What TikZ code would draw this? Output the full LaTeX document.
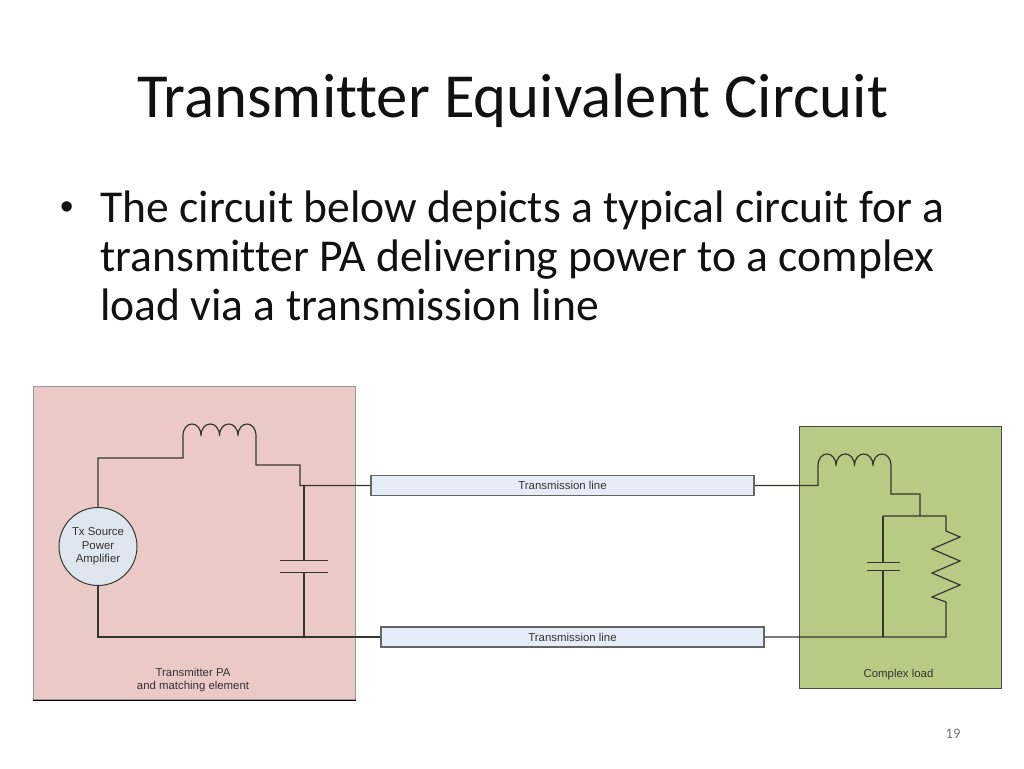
\documentclass[tikz,border=0pt]{standalone}
\usepackage{fontspec}
\setmainfont[Ligatures=NoCommon]{Carlito}
\newfontfamily\arialf{Liberation Sans}
\definecolor{pinkfill}{HTML}{EBC9C7}
\definecolor{greenfill}{HTML}{B6CC85}
\definecolor{linefill}{HTML}{E6ECF7}
\definecolor{srcfill}{HTML}{DDE6EE}
\definecolor{wirec}{HTML}{33382F}
\definecolor{txtc}{HTML}{111111}
\tikzset{
  wire/.style={draw=wirec,line width=1.2pt,line join=miter},
  panel/.style={draw=#1,line width=1pt,inner sep=0pt,anchor=north west},
  tline/.style={draw=black!60,fill=linefill,line width=1.3pt,minimum width=383pt,minimum height=20pt,inner sep=0pt,font=\arialf\fontsize{11.4}{12}\selectfont,text=black!80},
  small/.style={font=\arialf\fontsize{11.4}{13.5}\selectfont,text=black!80,align=center,inner sep=0pt},
}
\begin{document}
\begin{tikzpicture}[x=1pt,y=-1pt]
\useasboundingbox[fill=white] (0,0) rectangle (1024,768);
\node[anchor=base west,inner sep=0pt,font=\fontsize{62.7}{66}\selectfont,text=txtc] (title) at (137,117) {Transmitter Equivalent Circuit};
\node[anchor=base west,inner sep=0pt,font=\arialf\fontsize{38}{48}\selectfont,text=txtc] (bullet) at (60,219) {•};
\node[anchor=base west,inner sep=0pt,font=\fontsize{45.6}{48}\selectfont,text=txtc] (b1) at (100,222) {The circuit below depicts a typical circuit for a};
\node[anchor=base west,inner sep=0pt,font=\fontsize{45.6}{48}\selectfont,text=txtc] (b2) at (100,271) {transmitter PA delivering power to a complex};
\node[anchor=base west,inner sep=0pt,font=\fontsize{45.6}{48}\selectfont,text=txtc] (b3) at (100,320) {load via a transmission line};

\node[panel=black!40,fill=pinkfill,minimum width=322pt,minimum height=313.5pt] (pa) at (32.5,385.5) {};
\draw[black,line width=1pt] (pa.south west) -- (pa.south east);
\node[panel=black!70,fill=greenfill,minimum width=202pt,minimum height=262pt] (load) at (798.5,425.5) {};

\node[tline] (tl1) at (562.5,485.5) {Transmission line};
\node[tline] (tl2) at (572.5,637) {Transmission line};
\node[circle,draw=wirec,fill=srcfill,line width=1pt,minimum size=78pt,inner sep=0pt,align=center,font=\arialf\fontsize{11.4}{13.5}\selectfont,text=black!80] (src) at (98,546.5) {Tx Source\\Power\\Amplifier};
\node[small] (palabel) at (193,680) {Transmitter PA\\and matching element};
\node[small] (loadlabel) at (898.5,675) {Complex load};
\node[anchor=base,inner sep=0pt,font=\fontsize{14.5}{16}\selectfont,text=black!55] (pnum) at (953,738) {19};

% left circuit
\coordinate (a1) at (98,458);
\coordinate (i1l) at (183,458);
\coordinate (i1r) at (256,465);
\coordinate (j1) at (300,485.5);
\coordinate (capt) at (304,485.5);
\coordinate (c1a) at (304,560);
\coordinate (c1b) at (304,572);
\coordinate (bj) at (304,637);
\coordinate (bl) at (98,637);
\draw[wire] (src.north) -- (a1) -- (i1l) -- (183,436)
  .. controls (183,420) and (201,420) .. (201,436)
  .. controls (201,420) and (219.5,420) .. (219.5,436)
  .. controls (219.5,420) and (238,420) .. (238,436)
  .. controls (238,420) and (256,420) .. (256,436) -- (i1r) -- (300,465) -- (j1) -- (tl1.west);
\draw[wire] (capt) -- (c1a);
\draw[wire] (c1b) -- (bj);
\draw[wire,line width=1pt] (280,560) -- (328,560) (280,572) -- (328,572);
\draw[wire] (src.south) -- (bl) -- (tl2.west);

% right circuit
\coordinate (i2l) at (818,485.5);
\coordinate (i2r) at (891,494);
\coordinate (j2) at (920,516);
\coordinate (c2l) at (883,516);
\coordinate (r2) at (946,516);
\coordinate (b2l) at (883,637);
\coordinate (b2r) at (946,637);
\draw[wire] (tl1.east) -- (i2l) -- (818,466)
  .. controls (818,450) and (836,450) .. (836,466)
  .. controls (836,450) and (854.5,450) .. (854.5,466)
  .. controls (854.5,450) and (873,450) .. (873,466)
  .. controls (873,450) and (891,450) .. (891,466) -- (i2r) -- (920,494) -- (j2);
\draw[wire] (c2l) -- (r2) -- (946,531) -- (960,537) -- (932,549) -- (960,561) -- (932,573) -- (960,585) -- (932,597) -- (946,602) -- (b2r) -- (tl2.east);
\draw[wire] (c2l) -- (883,562);
\draw[wire] (883,570) -- (b2l);
\draw[wire,line width=1pt] (867,562) -- (900,562) (867,570) -- (900,570);
\end{tikzpicture}
\end{document}
